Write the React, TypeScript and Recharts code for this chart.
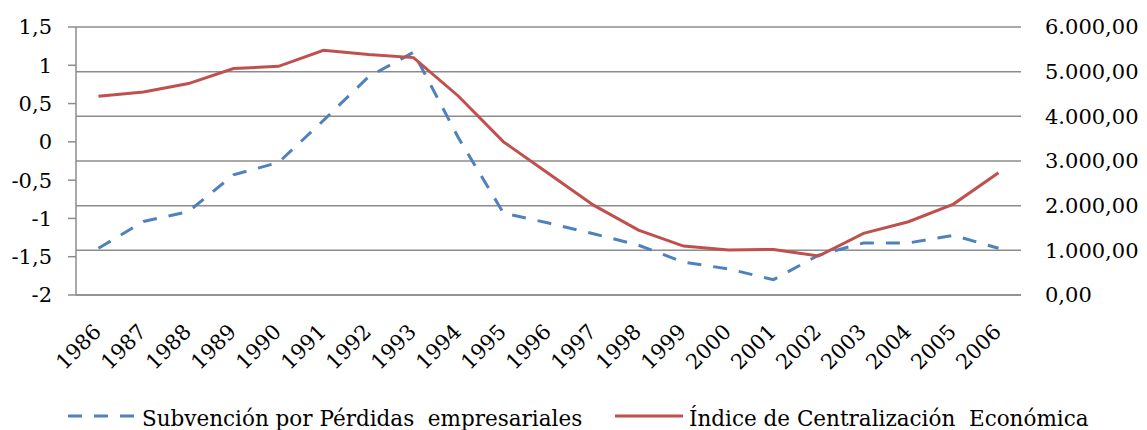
import React from 'react'
import {
  LineChart,
  Line,
  XAxis,
  YAxis,
  CartesianGrid,
  Legend,
} from 'recharts'

const years = [
  '1986', '1987', '1988', '1989', '1990', '1991', '1992', '1993', '1994', '1995', '1996',
  '1997', '1998', '1999', '2000', '2001', '2002', '2003', '2004', '2005', '2006',
]

// Subvención por Pérdidas empresariales (left axis)
const subvencion = [
  -1.39, -1.04, -0.91, -0.43, -0.27, 0.28, 0.85, 1.17, 0.05, -0.93, -1.06,
  -1.2, -1.35, -1.57, -1.66, -1.8, -1.48, -1.32, -1.32, -1.22, -1.39,
]

// Índice de Centralización Económica (right axis)
const indice = [
  4450, 4546, 4733, 5069, 5120, 5478, 5382, 5315, 4450, 3428, 2721,
  2012, 1453, 1096, 1006, 1021, 872, 1379, 1640, 2035, 2735,
]

const leftTicks = [-2, -1.5, -1, -0.5, 0, 0.5, 1, 1.5]
const rightTicks = [0, 1000, 2000, 3000, 4000, 5000, 6000]

const data = years.map((year, i) => ({
  year,
  sub: subvencion[i],
  ice: indice[i],
}))

const FONT = '"DejaVu Serif", serif'
const BLUE = '#4F81BD'
const RED = '#C0504D'
const GRID = '#8C8C8C'

const fmtLeft = (v: number) => String(v).replace('.', ',')

const fmtRight = (v: number) => {
  const [int, dec] = v.toFixed(2).split('.')
  return int.replace(/\B(?=(\d{3})+(?!\d))/g, '.') + ',' + dec
}

function YearTick({ x, y, payload }: any) {
  const ax = x + 4
  const ay = y + 38
  return (
    <text
      x={ax}
      y={ay}
      transform={`rotate(-45, ${ax}, ${ay})`}
      textAnchor="end"
      fill="#000"
      fontSize={21}
      fontFamily={FONT}
    >
      {payload.value}
    </text>
  )
}

function ChartLegend() {
  return (
    <svg width={1147} height={40} style={{ display: 'block' }}>
      <line x1={68} x2={137} y1={26} y2={26} stroke={BLUE} strokeWidth={3} strokeDasharray="14 12" />
      <text x={142} y={36} fontSize={21.5} fontFamily={FONT} fill="#000">
        {'Subvención por Pérdidas\u00a0 empresariales'}
      </text>
      <line x1={615} x2={683} y1={26} y2={26} stroke={RED} strokeWidth={3} />
      <text x={689} y={36} fontSize={21.5} fontFamily={FONT} fill="#000">
        {'Índice de Centralización\u00a0 Económica'}
      </text>
    </svg>
  )
}

export default function App() {
  return (
    <div style={{ width: 1147, height: 430, background: '#fff', fontFamily: FONT }}>
      <style>{'body{margin:0}'}</style>
      <LineChart
        width={1147}
        height={430}
        data={data}
        margin={{ top: 27, right: 0, bottom: 0, left: 0 }}
      >
        <CartesianGrid yAxisId="right" vertical={false} stroke={GRID} strokeWidth={1.5} />
        <XAxis
          dataKey="year"
          height={95}
          padding={{ left: 22.5, right: 22.5 }}
          tick={<YearTick />}
          tickLine={false}
          tickSize={0}
          tickMargin={0}
          interval={0}
          axisLine={{ stroke: GRID, strokeWidth: 1.5 }}
        />
        <YAxis
          yAxisId="left"
          width={76}
          domain={[-2, 1.5]}
          ticks={leftTicks}
          tickFormatter={fmtLeft}
          tickSize={8}
          tickMargin={16}
          tickLine={{ stroke: GRID, strokeWidth: 1.5 }}
          axisLine={{ stroke: GRID, strokeWidth: 1.5 }}
          tick={{ fill: '#000', fontSize: 21, fontFamily: FONT }}
        />
        <YAxis
          yAxisId="right"
          orientation="right"
          width={126}
          domain={[0, 6000]}
          ticks={rightTicks}
          tickFormatter={fmtRight}
          tickSize={0}
          tickMargin={24}
          tickLine={false}
          axisLine={false}
          tick={{ fill: '#000', fontSize: 21, fontFamily: FONT, textAnchor: 'start' }}
        />
        <Legend verticalAlign="bottom" height={40} width={1147} wrapperStyle={{ left: 0 }} content={<ChartLegend />} />
        <Line
          yAxisId="left"
          type="linear"
          dataKey="sub"
          stroke={BLUE}
          strokeWidth={3}
          strokeDasharray="14 12"
          dot={false}
          isAnimationActive={false}
        />
        <Line
          yAxisId="right"
          type="linear"
          dataKey="ice"
          stroke={RED}
          strokeWidth={3}
          dot={false}
          isAnimationActive={false}
        />
      </LineChart>
    </div>
  )
}
